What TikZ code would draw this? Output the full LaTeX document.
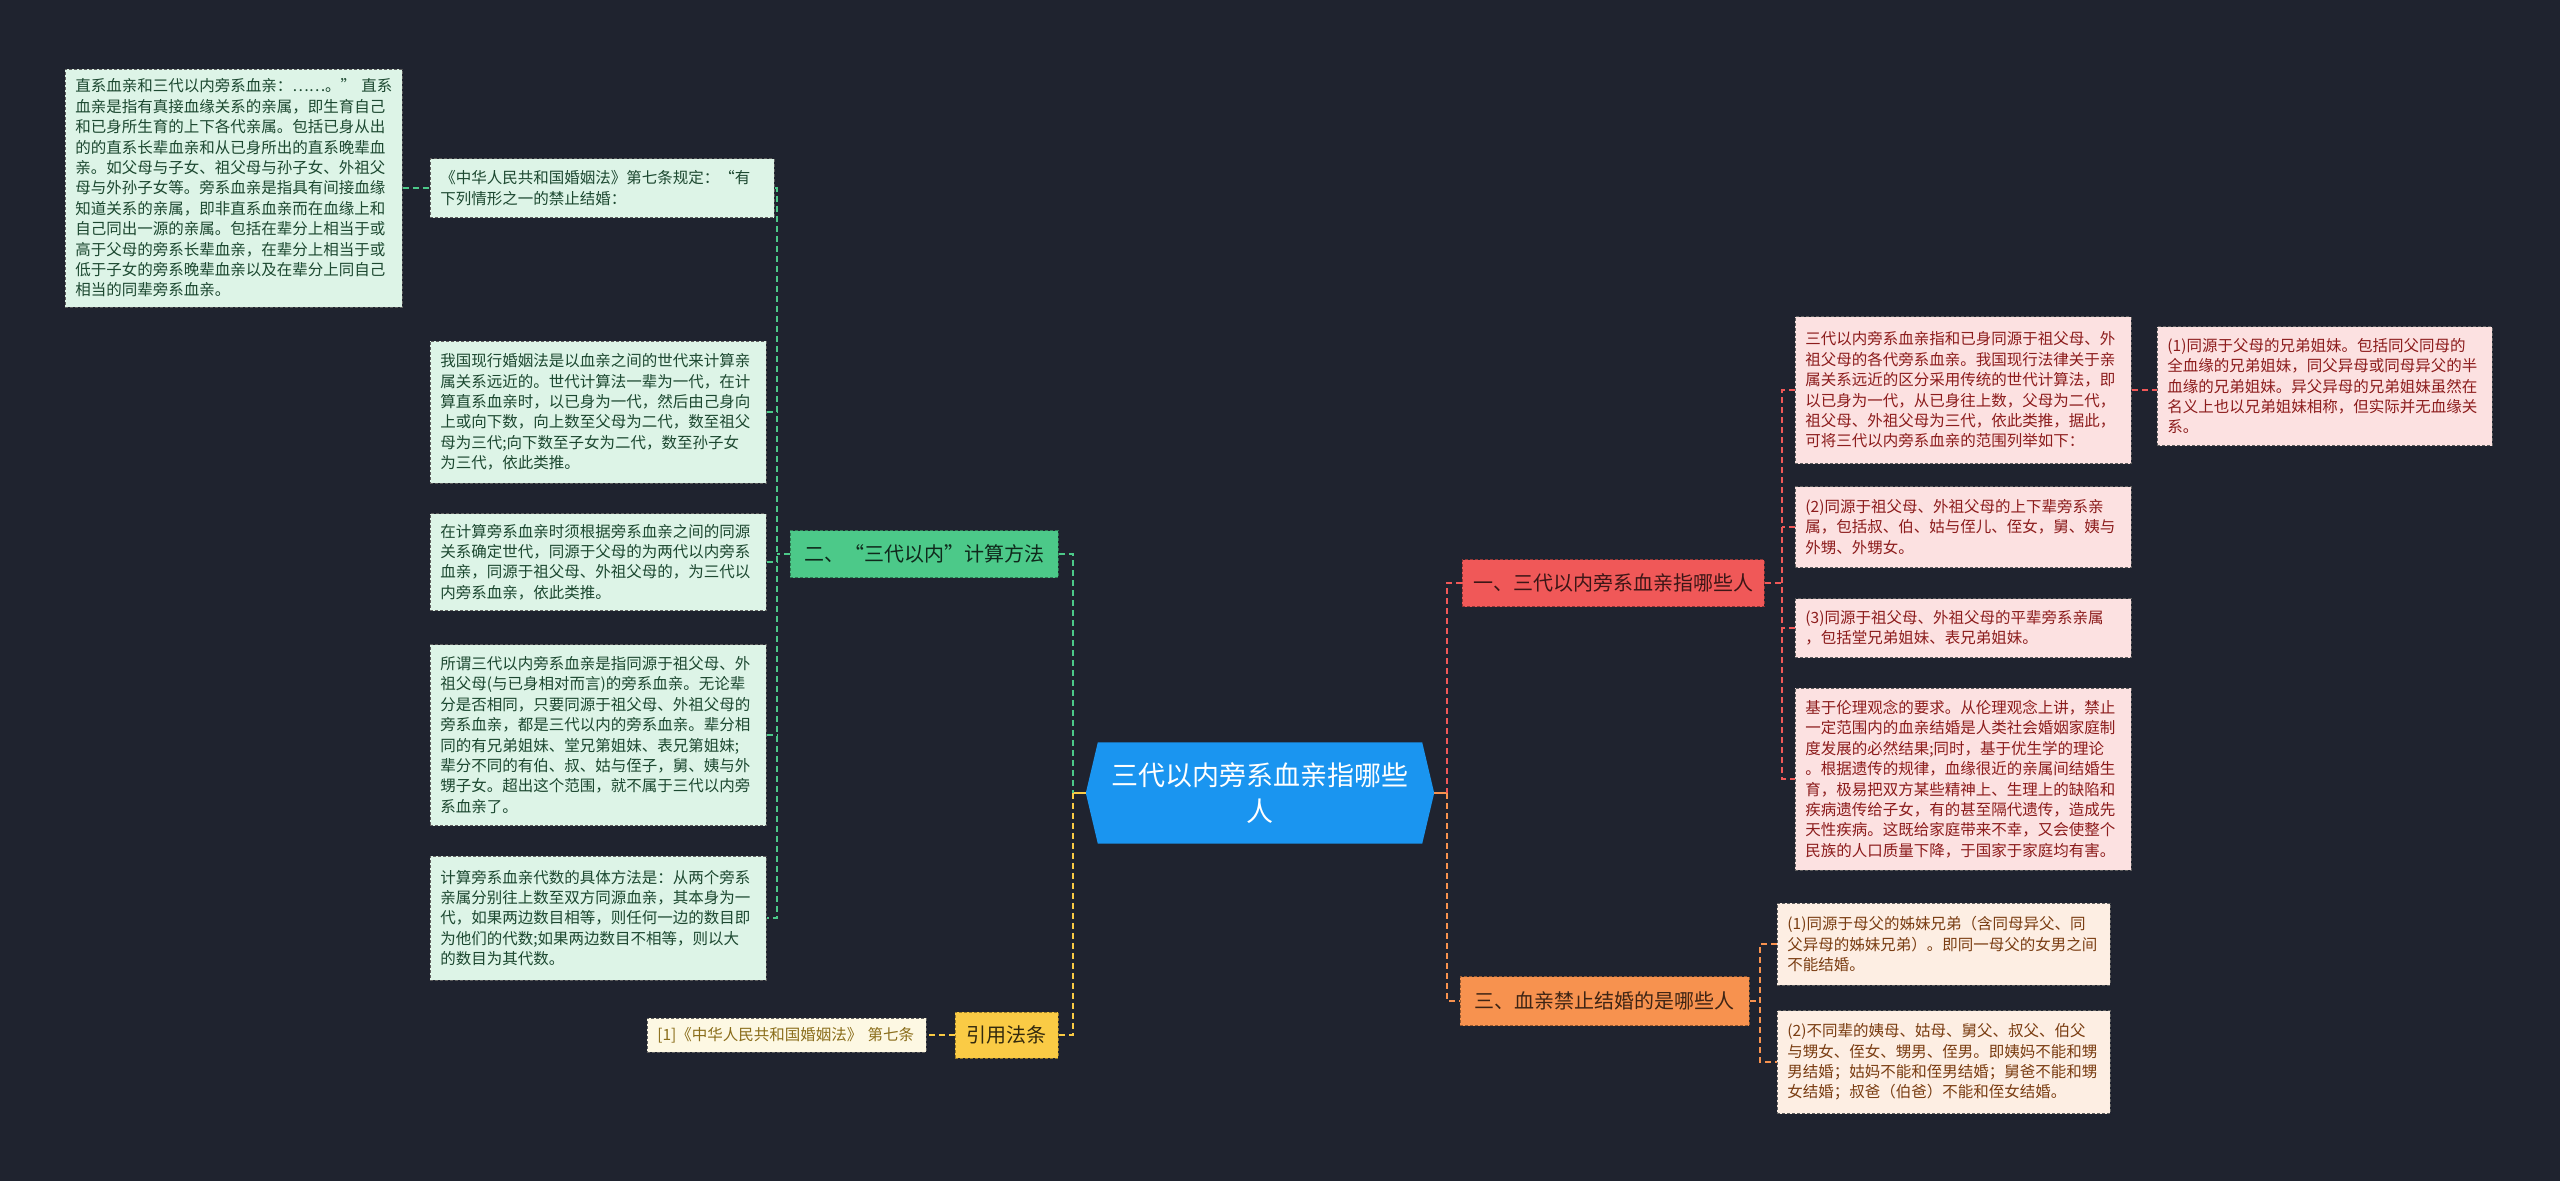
\documentclass[tikz,border=0pt]{standalone}
\usepackage{fontspec}
\setmainfont{Noto Sans CJK SC}
\usetikzlibrary{calc}
\definecolor{bg}{RGB}{31,35,47}
\definecolor{cblue}{RGB}{26,149,240}
\definecolor{gfill}{RGB}{76,201,137}
\definecolor{gleaff}{RGB}{221,244,231}
\definecolor{gtext}{RGB}{28,72,48}
\definecolor{rfill}{RGB}{240,88,88}
\definecolor{rleaff}{RGB}{252,225,225}
\definecolor{rtext}{RGB}{140,28,28}
\definecolor{ofill}{RGB}{247,146,79}
\definecolor{oleaff}{RGB}{253,238,227}
\definecolor{otext}{RGB}{122,61,18}
\definecolor{yfill}{RGB}{250,203,69}
\definecolor{yleaff}{RGB}{253,248,227}
\definecolor{ytext}{RGB}{138,109,26}
\definecolor{bord}{RGB}{95,95,95}
\tikzset{
  leafbase/.style={anchor=west, draw=bord, dash pattern=on 3pt off 2pt, line width=0.8pt,
    align=left, inner xsep=10pt, inner ysep=3pt,
    font=\fontsize{15.5}{20.4}\selectfont},
  gleaf/.style={leafbase, fill=gleaff, text=gtext},
  rleaf/.style={leafbase, fill=rleaff, text=rtext},
  oleaf/.style={leafbase, fill=oleaff, text=otext},
  yleaf/.style={leafbase, fill=yleaff, text=ytext},
  branchbase/.style={anchor=west, dash pattern=on 3pt off 2pt, line width=0.8pt,
    align=center, inner sep=0pt, font=\fontsize{20}{24}\selectfont},
  gbranch/.style={branchbase, fill=gfill, draw=gfill!60!black, text=black!80!gfill},
  rbranch/.style={branchbase, fill=rfill, draw=rfill!60!black, text=black!75!rfill},
  obranch/.style={branchbase, fill=ofill, draw=ofill!60!black, text=black!75!ofill},
  ybranch/.style={branchbase, fill=yfill, draw=yfill!60!black, text=black!80!yfill},
  conn/.style={line width=2pt, dash pattern=on 6pt off 4pt},
  gline/.style={conn, draw=gfill},
  rline/.style={conn, draw=rfill},
  oline/.style={conn, draw=ofill},
  yline/.style={conn, draw=yfill},
}
\begin{document}
\begin{tikzpicture}[x=1pt,y=-1pt]
\fill[bg] (0,0) rectangle (2560,1181);
\useasboundingbox (0,0) rectangle (2560,1181);

% center
\node[minimum width=348pt, minimum height=101pt, inner sep=0pt] (c) at (1260,793) {};
\fill[cblue] (c.west) -- ($(c.north west)+(12,0)$) -- ($(c.north east)+(-12,0)$) -- (c.east)
  -- ($(c.south east)+(-12,0)$) -- ($(c.south west)+(12,0)$) -- cycle;
\node[text=white, align=center, font=\fontsize{27}{36}\selectfont] (ct) at (c.center) {三代以内旁系血亲指哪些\\人};

% branches
\node[rbranch, minimum width=302pt, minimum height=47pt] (b1) at (1462,583) {一、三代以内旁系血亲指哪些人};
\node[gbranch, minimum width=268pt, minimum height=47pt] (b2) at (790,554) {二、“三代以内”计算方法};
\node[obranch, minimum width=289pt, minimum height=49pt] (b3) at (1460,1001) {三、血亲禁止结婚的是哪些人};
\node[ybranch, minimum width=103pt, minimum height=46pt] (b4) at (955,1035) {引用法条};

% green leaves
\node[gleaf, text width=317pt, minimum height=238pt] (L1) at (65,188) {直系血亲和三代以内旁系血亲：……。”~直系\\血亲是指有真接血缘关系的亲属，即生育自己\\和已身所生育的上下各代亲属。包括已身从出\\的的直系长辈血亲和从已身所出的直系晚辈血\\亲。如父母与子女、祖父母与孙子女、外祖父\\母与外孙子女等。旁系血亲是指具有间接血缘\\知道关系的亲属，即非直系血亲而在血缘上和\\自己同出一源的亲属。包括在辈分上相当于或\\高于父母的旁系长辈血亲，在辈分上相当于或\\低于子女的旁系晚辈血亲以及在辈分上同自己\\相当的同辈旁系血亲。};
\node[gleaf, text width=324pt, minimum height=59pt] (L2) at (430,188) {《中华人民共和国婚姻法》第七条规定：“有\\下列情形之一的禁止结婚：};
\node[gleaf, text width=316pt, minimum height=142pt] (L3) at (430,412) {我国现行婚姻法是以血亲之间的世代来计算亲\\属关系远近的。世代计算法一辈为一代，在计\\算直系血亲时，以已身为一代，然后由己身向\\上或向下数，向上数至父母为二代，数至祖父\\母为三代;向下数至子女为二代，数至孙子女\\为三代，依此类推。};
\node[gleaf, text width=316pt, minimum height=97pt] (L4) at (430,562) {在计算旁系血亲时须根据旁系血亲之间的同源\\关系确定世代，同源于父母的为两代以内旁系\\血亲，同源于祖父母、外祖父母的，为三代以\\内旁系血亲，依此类推。};
\node[gleaf, text width=316pt, minimum height=181pt] (L5) at (430,735) {所谓三代以内旁系血亲是指同源于祖父母、外\\祖父母(与已身相对而言)的旁系血亲。无论辈\\分是否相同，只要同源于祖父母、外祖父母的\\旁系血亲，都是三代以内的旁系血亲。辈分相\\同的有兄弟姐妹、堂兄第姐妹、表兄第姐妹;\\辈分不同的有伯、叔、姑与侄子，舅、姨与外\\甥子女。超出这个范围，就不属于三代以内旁\\系血亲了。};
\node[gleaf, text width=316pt, minimum height=124pt] (L6) at (430,918) {计算旁系血亲代数的具体方法是：从两个旁系\\亲属分别往上数至双方同源血亲，其本身为一\\代，如果两边数目相等，则任何一边的数目即\\为他们的代数;如果两边数目不相等，则以大\\的数目为其代数。};

% red leaves
\node[rleaf, text width=316pt, minimum height=147pt] (R1) at (1795,390) {三代以内旁系血亲指和已身同源于祖父母、外\\祖父母的各代旁系血亲。我国现行法律关于亲\\属关系远近的区分采用传统的世代计算法，即\\以已身为一代，从已身往上数，父母为二代，\\祖父母、外祖父母为三代，依此类推，据此，\\可将三代以内旁系血亲的范围列举如下：};
\node[rleaf, text width=315pt, minimum height=119pt] (R1a) at (2157,386) {(1)同源于父母的兄弟姐妹。包括同父同母的\\全血缘的兄弟姐妹，同父异母或同母异父的半\\血缘的兄弟姐妹。异父异母的兄弟姐妹虽然在\\名义上也以兄弟姐妹相称，但实际并无血缘关\\系。};
\node[rleaf, text width=316pt, minimum height=81pt] (R2) at (1795,527) {(2)同源于祖父母、外祖父母的上下辈旁系亲\\属，包括叔、伯、姑与侄儿、侄女，舅、姨与\\外甥、外甥女。};
\node[rleaf, text width=316pt, minimum height=59pt] (R3) at (1795,628) {(3)同源于祖父母、外祖父母的平辈旁系亲属\\，包括堂兄弟姐妹、表兄弟姐妹。};
\node[rleaf, text width=316pt, minimum height=182pt] (R4) at (1795,779) {基于伦理观念的要求。从伦理观念上讲，禁止\\一定范围内的血亲结婚是人类社会婚姻家庭制\\度发展的必然结果;同时，基于优生学的理论\\。根据遗传的规律，血缘很近的亲属间结婚生\\育，极易把双方某些精神上、生理上的缺陷和\\疾病遗传给子女，有的甚至隔代遗传，造成先\\天性疾病。这既给家庭带来不幸，又会使整个\\民族的人口质量下降，于国家于家庭均有害。};

% orange leaves
\node[oleaf, text width=313pt, minimum height=82pt] (O1) at (1777,944) {(1)同源于母父的姊妹兄弟（含同母异父、同\\父异母的姊妹兄弟）。即同一母父的女男之间\\不能结婚。};
\node[oleaf, text width=313pt, minimum height=103pt] (O2) at (1777,1062) {(2)不同辈的姨母、姑母、舅父、叔父、伯父\\与甥女、侄女、甥男、侄男。即姨妈不能和甥\\男结婚；姑妈不能和侄男结婚；舅爸不能和甥\\女结婚；叔爸（伯爸）不能和侄女结婚。};

% yellow leaf
\node[yleaf, text width=259pt, minimum height=34pt] (Y1) at (647,1035) {[1]《中华人民共和国婚姻法》 第七条};

% trunk coordinates
\coordinate (lt) at (1073,0);
\coordinate (rt) at (1447,0);
\coordinate (gt) at (777,0);
\coordinate (rrt) at (1782,0);
\coordinate (ot) at (1760,0);

% center connectors
\draw[line width=2pt, yfill] (c.west) -- (c.west -| lt);
\draw[line width=2pt, ofill] (c.east) -- (c.east -| rt);
\draw[gline] (b2.east) -- (b2.east -| lt) -- (c.west -| lt);
\draw[yline] (c.west -| lt) -- (b4.east -| lt) -- (b4.east);
\draw[rline] (b1.west) -- (b1.west -| rt) -- (c.east -| rt);
\draw[oline] (c.east -| rt) -- (b3.west -| rt) -- (b3.west);

% green
\draw[gline] (b2.west) -- (b2.west -| gt);
\draw[gline] (L2.east) -- (L2.east -| gt) -- (L6.east -| gt) -- (L6.east);
\foreach \n in {L3,L4,L5} \draw[gline] (\n.east) -- (\n.east -| gt);
\draw[gline] (L1.east) -- (L2.west);

% red
\draw[rline] (b1.east) -- (b1.east -| rrt);
\draw[rline] (R1.west) -- (R1.west -| rrt) -- (R4.west -| rrt) -- (R4.west);
\foreach \n in {R2,R3} \draw[rline] (\n.west) -- (\n.west -| rrt);
\draw[rline] (R1.east) -- (R1.east -| R1a.west);

% orange
\draw[oline] (b3.east) -- (b3.east -| ot);
\draw[oline] (O1.west) -- (O1.west -| ot) -- (O2.west -| ot) -- (O2.west);

% yellow
\draw[yline] (b4.west) -- (Y1.east);
\end{tikzpicture}
\end{document}
